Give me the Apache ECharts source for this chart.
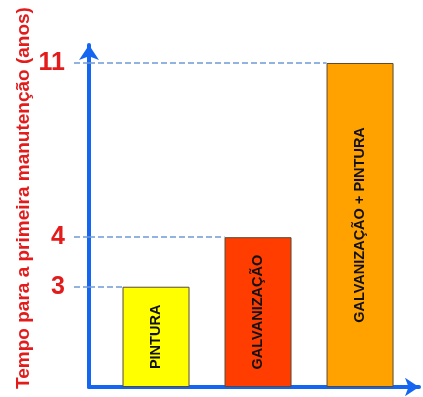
<!DOCTYPE html>
<html>
<head>
<meta charset="utf-8">
<style>
html,body{margin:0;padding:0;background:#fff;}
#c{width:423px;height:397px;}
</style>
<script src="https://cdn.jsdelivr.net/npm/echarts@6/dist/echarts.min.js"></script>
</head>
<body>
<div id="c"></div>
<script>
const CATEGORIES = ['PINTURA', 'GALVANIZAÇÃO', 'GALVANIZAÇÃO + PINTURA'];
const VALUES = [3, 4, 11];
const COLORS = ['#ffff00', '#ff3d00', '#ffa200'];
const TICKS = [3, 4, 11];
const Y_NAME = 'Tempo para a primeira manutenção (anos)';

const GRID = { left: 89, right: 4, top: 45, bottom: 10 };
const W = 423;
const X_MIN = -0.657, X_MAX = 2.578;
const Y_MIN = 1.676, Y_MAX = 12.21;
const BAR_W = 67;
const BLUE = '#1466f2';
const RED = '#e31b1b';
const DASH = '#6f9ad6';

// half bar width expressed in x-axis units (so dashed guides stop at bar's left edge)
const pxPerUnit = (W - GRID.left - GRID.right) / (X_MAX - X_MIN);
const halfBar = (BAR_W / 2) / pxPerUnit;

const chart = echarts.init(document.getElementById('c'));
chart.setOption({
  animation: false,
  grid: Object.assign({ containLabel: false }, GRID),
  xAxis: {
    type: 'value', min: X_MIN, max: X_MAX,
    axisLine: { show: true, onZero: false, symbol: ['none', 'arrow'], symbolSize: [14, 14], lineStyle: { color: BLUE, width: 4 } },
    axisTick: { show: false }, axisLabel: { show: false }, splitLine: { show: false }
  },
  yAxis: {
    type: 'log', logBase: 10, min: Y_MIN, max: Y_MAX, startValue: Y_MIN,
    name: Y_NAME, nameLocation: 'middle', nameGap: 56, nameMoveOverlap: false,
    nameTextStyle: { color: RED, fontSize: 19, fontWeight: 'bold', fontFamily: 'Liberation Sans, Arial, sans-serif', padding: [0, 0, 0, 36] },
    axisLine: { show: true, onZero: false, symbol: ['none', 'arrow'], symbolSize: [15, 15], lineStyle: { color: BLUE, width: 4 } },
    axisTick: { show: true, customValues: TICKS, length: 16, lineStyle: { color: DASH, type: 'dashed', width: 1.5 } },
    axisLabel: { show: true, customValues: TICKS, margin: 24, color: RED, fontSize: 25, fontWeight: 'bold', fontFamily: 'Liberation Sans, Arial, sans-serif' },
    splitLine: { show: false }
  },
  series: [{
    type: 'bar',
    z: 3,
    barWidth: BAR_W,
    data: VALUES.map((v, i) => ({ value: [i, v], itemStyle: { color: COLORS[i] } })),
    itemStyle: { borderColor: '#5a4a30', borderWidth: 1 },
    label: {
      show: true, position: 'inside', rotate: 90,
      formatter: p => CATEGORIES[p.dataIndex],
      color: '#111', fontSize: 14.5, fontWeight: 'bold', fontFamily: 'Liberation Sans, Arial, sans-serif'
    },
    markLine: {
      silent: true, z: 1, symbol: 'none',
      label: { show: false },
      lineStyle: { color: DASH, type: 'dashed', width: 1.5 },
      data: VALUES.map((v, i) => [{ coord: [X_MIN, v] }, { coord: [i - halfBar, v] }])
    }
  }]
});
</script>
</body>
</html>
